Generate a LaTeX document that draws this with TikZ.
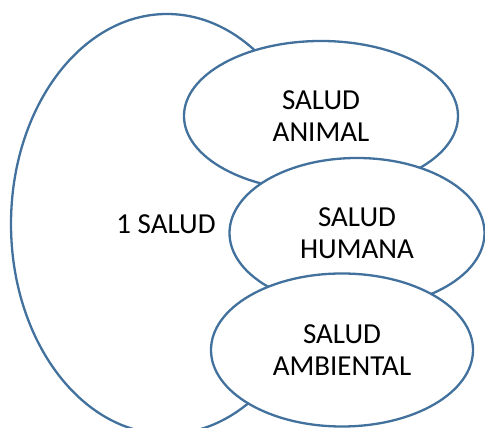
\documentclass[tikz,border=0pt]{standalone}
\usepackage{fontspec}
\setmainfont{Carlito}
\usetikzlibrary{shapes.geometric}
\definecolor{outl}{HTML}{41719C}
\tikzset{
  txt/.style={font=\fontsize{29}{32}\selectfont, text=black},
  bub/.style={ellipse, draw=outl, line width=2.3pt, fill=white, inner sep=0pt, align=center, txt},
}
\begin{document}
\begin{tikzpicture}[x=1pt,y=1pt]
\useasboundingbox (0,0) rectangle (485,428);
\clip (0,0) rectangle (485,428);
\node[bub, minimum width=312, minimum height=420] (one) at (167,204) {};
\node[txt] (onet) at (166,204) {1 SALUD};
\node[bub, minimum width=274, minimum height=150] (animal) at (321,312) {SALUD\\ANIMAL};
\node[bub, minimum width=255, minimum height=150] (humana) at (357,195) {SALUD\\HUMANA};
\node[bub, minimum width=262, minimum height=153] (amb) at (342,78) {SALUD\\AMBIENTAL};
\end{tikzpicture}
\end{document}
